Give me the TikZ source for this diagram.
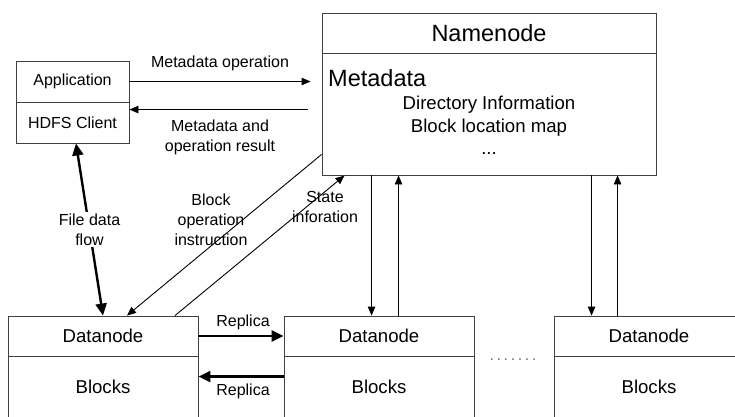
\documentclass[tikz,border=0pt]{standalone}
\usepackage{fontspec}
\setmainfont{Liberation Sans}
\usetikzlibrary{arrows.meta,calc}
\begin{document}
\begin{tikzpicture}[x=1pt,y=-1pt,
  box/.style={draw=black!75,line width=0.9pt,inner sep=0pt,rectangle},
  fs/.style={font=\fontsize{16}{20}\selectfont},
  fm/.style={font=\fontsize{18.6}{22}\selectfont},
  fl/.style={font=\fontsize{23.5}{28}\selectfont},
  thinarrow/.style={line width=0.9pt,-{Triangle[length=9pt,width=7.5pt]}},
  thickarrow/.style={line width=2.4pt,-{Triangle[length=12pt,width=11pt]}},
  lbl/.style={fs,align=center,inner sep=1pt}]
\useasboundingbox (0,0) rectangle (735,416);
\clip (0,0) rectangle (735,416);
\fill[white] (0,0) rectangle (735,416);
% client
\node[box,fs,minimum width=113,minimum height=41] (app) at (72.5,81.5) {Application};
\node[box,fs,minimum width=113,minimum height=41] (hdfs) at (72.5,122.5) {HDFS Client};
% namenode
\node[box,fl,minimum width=334,minimum height=40] (nnhead) at (489,33) {Namenode};
\node[box,minimum width=334,minimum height=122] (nnbody) at (489,114) {};
\node[fl,anchor=west,inner sep=0pt] (meta) at (328,78) {Metadata};
\node[fm,inner sep=0pt] (dir) at (489,105) {Directory Information};
\node[fm,inner sep=0pt] (blm) at (489,128) {Block location map};
\node[fm,inner sep=0pt] (dots) at (489,153) {...};
% datanodes
\node[box,fm,minimum width=190,minimum height=40] (dn1) at (103,336) {Datanode};
\node[box,fm,minimum width=190,minimum height=62] (bl1) at (103,387) {Blocks};
\node[box,fm,minimum width=190,minimum height=40] (dn2) at (379,336) {Datanode};
\node[box,fm,minimum width=190,minimum height=62] (bl2) at (379,387) {Blocks};
\node[box,fm,minimum width=190,minimum height=40] (dn3) at (649,336) {Datanode};
\node[box,fm,minimum width=190,minimum height=62] (bl3) at (649,387) {Blocks};
\node[fs,text=black!55,inner sep=0pt] (gap) at (513,360) {.\hspace{2.6pt}.\hspace{2.6pt}.\hspace{2.6pt}.\hspace{2.6pt}.\hspace{2.6pt}.\hspace{2.6pt}.};
% client <-> namenode
\draw[thinarrow,shorten >=11pt] (app.east) -- (app.east -| nnbody.west);
\node[lbl] (l1) at (220,63) {Metadata operation};
\draw[thinarrow,shorten <=14pt] ([yshift=-8]hdfs.north -| nnbody.west) -- ([yshift=-8]hdfs.north east);
\node[lbl] (l2) at (220,137) {Metadata and\\operation result};
% file data flow
\draw[thickarrow,{Triangle[length=12pt,width=11pt]}-{Triangle[length=12pt,width=11pt]}] ([xshift=3.5]hdfs.south) -- (dn1.north)
  node[midway,lbl,fill=white,inner sep=2pt] (l3) {File data\\flow};
% block operation / state
\draw[thinarrow] ($(nnbody.south west)+(0,-21)$) -- ($(dn1.north)+(24,0)$);
\node[lbl] (l4) at (211,220) {Block\\operation\\instruction};
\draw[thinarrow] ($(dn1.north)+(72,0)$) -- ($(nnbody.south west)+(23,0)$);
\node[lbl] (l5) at (325,207) {State\\inforation};
% namenode <-> datanodes
\coordinate (v1) at ($(nnbody.south west)+(50,0)$);
\coordinate (v2) at ($(nnbody.south west)+(77,0)$);
\coordinate (v3) at ($(nnbody.south west)+(270,0)$);
\coordinate (v4) at ($(nnbody.south west)+(296,0)$);
\draw[thinarrow] (v1) -- (v1 |- dn2.north);
\draw[thinarrow] (v2 |- dn2.north) -- (v2);
\draw[thinarrow] (v3) -- (v3 |- dn3.north);
\draw[thinarrow] (v4 |- dn3.north) -- (v4);
% replicas
\draw[thickarrow] (dn1.east) -- (dn2.west);
\node[lbl] (r1) at (243,322) {Replica};
\draw[thickarrow] ($(bl2.north west)+(0,21)$) -- ($(bl1.north east)+(0,21)$);
\node[lbl] (r2) at (243,391) {Replica};
\end{tikzpicture}
\end{document}
